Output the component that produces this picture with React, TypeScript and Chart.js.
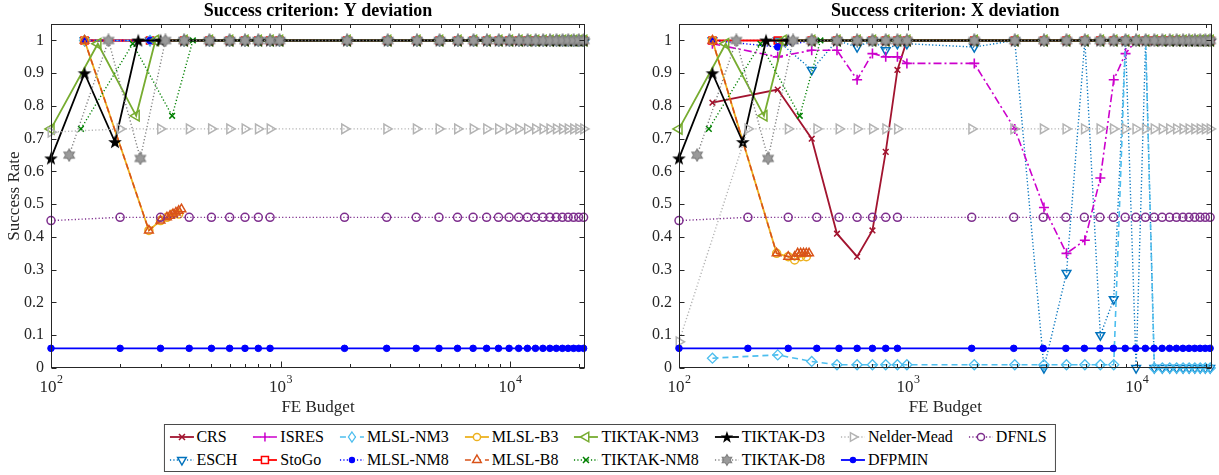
import React, { useEffect, useRef } from 'react';
import { Chart, registerables } from 'chart.js';

Chart.register(...registerables);

const FONT = '"Liberation Serif", "Times New Roman", Times, serif';
const INK = '#262626';

// ---------- axes ----------
const Y_TICKS = [0, 0.1, 0.2, 0.3, 0.4, 0.5, 0.6, 0.7, 0.8, 0.9, 1];
const Y_MIN = 0;
const Y_MAX = 1.05;
const X_MIN = 100;
const X_MAX = 21200;
const X_MAJOR = [100, 1000, 10000];
const X_MAJOR_EXP = ['2', '3', '4'];
const X_MINOR = [200, 300, 400, 500, 600, 700, 800, 900, 2000, 3000, 4000, 5000, 6000, 7000, 8000, 9000, 20000];

const TITLE_Y = 'Success criterion: Y deviation';
const TITLE_X = 'Success criterion: X deviation';
const X_LABEL = 'FE Budget';
const Y_LABEL = 'Success Rate';

// ---------- budgets (x values) ----------
const GRID_STD = [100, 200, 300, 400, 500, 600, 700, 800, 900,
  1900, 2900, 3900, 4900, 5900, 6900, 7900, 8900, 9900,
  10900, 11900, 12900, 13900, 14900, 15900, 16900, 17900, 18900, 19900, 20900];
const GRID_ALG = [140, 270, 380, 490, 600, 700, 800, 900, 990,
  1950, 2930, 3930, 4930, 5930, 6930, 7930, 8930, 9930,
  10930, 11930, 12930, 13930, 14930, 15930, 16930, 17930, 18930, 19930, 20930];
const GRID_B3 = [140, 267, 300, 320, 340, 360];
const GRID_B8 = [140, 267, 300, 320, 330, 340, 350, 360, 370];
const GRID_TNM3 = [100, 160, 235, 285, 380, 490, 600, 700, 800, 900, 990,
  1950, 2930, 3930, 4930, 5930, 6930, 7930, 8930, 9930,
  10930, 11930, 12930, 13930, 14930, 15930, 16930, 17930, 18930, 19930, 20930];
const GRID_TD3 = [100, 140, 190, 240, 300, 380, 490, 600, 700, 800, 900, 990,
  1950, 2930, 3930, 4930, 5930, 6930, 7930, 8930, 9930,
  10930, 11930, 12930, 13930, 14930, 15930, 16930, 17930, 18930, 19930, 20930];
const GRID_TNM8 = [135, 227, 337, 415, 490, 600, 700, 800, 900, 990,
  1950, 2930, 3930, 4930, 5930, 6930, 7930, 8930, 9930,
  10930, 11930, 12930, 13930, 14930, 15930, 16930, 17930, 18930, 19930, 20930];
const GRID_TD8 = [120, 178, 245, 315, 380, 490, 600, 700, 800, 900, 990,
  1950, 2930, 3930, 4930, 5930, 6930, 7930, 8930, 9930,
  10930, 11930, 12930, 13930, 14930, 15930, 16930, 17930, 18930, 19930, 20930];

// ---------- success rates, Y deviation (left panel) ----------
const CRS_Y = [1, 1, 1, 1, 1, 1, 1, 1, 1, 1, 1, 1, 1, 1, 1, 1, 1, 1, 1, 1, 1, 1, 1, 1, 1, 1, 1, 1, 1];
const ESCH_Y = [1, 1, 1, 1, 1, 1, 1, 1, 1, 1, 1, 1, 1, 1, 1, 1, 1, 1, 1, 1, 1, 1, 1, 1, 1, 1, 1, 1, 1];
const ISRES_Y = [1, 1, 1, 1, 1, 1, 1, 1, 1, 1, 1, 1, 1, 1, 1, 1, 1, 1, 1, 1, 1, 1, 1, 1, 1, 1, 1, 1, 1];
const STOGO_Y = [1, 1, 1, 1, 1, 1, 1, 1, 1, 1, 1, 1, 1, 1, 1, 1, 1, 1, 1, 1, 1, 1, 1, 1, 1, 1, 1, 1, 1];
const MLSL_NM3_Y = [1, 1, 1, 1, 1, 1, 1, 1, 1, 1, 1, 1, 1, 1, 1, 1, 1, 1, 1, 1, 1, 1, 1, 1, 1, 1, 1, 1, 1];
const MLSL_NM8_Y = [1, 1, 1, 1, 1, 1, 1, 1, 1, 1, 1, 1, 1, 1, 1, 1, 1, 1, 1, 1, 1, 1, 1, 1, 1, 1, 1, 1, 1];
const MLSL_B3_Y = [1, 0.42, 0.45, 0.46, 0.47, 0.47];
const MLSL_B8_Y = [1, 0.42, 0.45, 0.46, 0.465, 0.47, 0.475, 0.48, 0.485];
const TIKTAK_NM3_Y = [0.73, 0.99, 0.77, 1, 1, 1, 1, 1, 1, 1, 1,
  1, 1, 1, 1, 1, 1, 1, 1, 1, 1, 1, 1, 1, 1, 1, 1, 1, 1, 1, 1];
const TIKTAK_NM8_Y = [0.73, 0.99, 0.77, 1, 1, 1, 1, 1, 1, 1,
  1, 1, 1, 1, 1, 1, 1, 1, 1, 1, 1, 1, 1, 1, 1, 1, 1, 1, 1, 1];
const TIKTAK_D3_Y = [0.64, 0.9, 0.69, 1, 1, 1, 1, 1, 1, 1, 1, 1,
  1, 1, 1, 1, 1, 1, 1, 1, 1, 1, 1, 1, 1, 1, 1, 1, 1, 1, 1, 1];
const TIKTAK_D8_Y = [0.65, 1, 0.64, 1, 1, 1, 1, 1, 1, 1, 1,
  1, 1, 1, 1, 1, 1, 1, 1, 1, 1, 1, 1, 1, 1, 1, 1, 1, 1, 1, 1];
const NELDER_MEAD_Y = [0.72, 0.73, 0.73, 0.73, 0.73, 0.73, 0.73, 0.73, 0.73, 0.73,
  0.73, 0.73, 0.73, 0.73, 0.73, 0.73, 0.73, 0.73, 0.73, 0.73,
  0.73, 0.73, 0.73, 0.73, 0.73, 0.73, 0.73, 0.73, 0.73];
const DFPMIN_Y = [0.06, 0.06, 0.06, 0.06, 0.06, 0.06, 0.06, 0.06, 0.06, 0.06,
  0.06, 0.06, 0.06, 0.06, 0.06, 0.06, 0.06, 0.06, 0.06, 0.06,
  0.06, 0.06, 0.06, 0.06, 0.06, 0.06, 0.06, 0.06, 0.06];
const DFNLS_Y = [0.45, 0.46, 0.46, 0.46, 0.46, 0.46, 0.46, 0.46, 0.46, 0.46,
  0.46, 0.46, 0.46, 0.46, 0.46, 0.46, 0.46, 0.46, 0.46, 0.46,
  0.46, 0.46, 0.46, 0.46, 0.46, 0.46, 0.46, 0.46, 0.46];

// ---------- success rates, X deviation (right panel) ----------
const CRS_X = [0.81, 0.85, 0.7, 0.41, 0.34, 0.42, 0.66, 0.91, 1, 1,
  1, 1, 1, 1, 1, 1, 1, 1, 1, 1, 1, 1, 1, 1, 1, 1, 1, 1, 1];
const ESCH_X = [1, 1, 0.91, 1, 0.98, 1, 0.97, 0.99, 0.99, 0.98,
  1, 0, 0.29, 1, 0.1, 0.21, 1, 0, 1, 0,
  0, 0, 0, 0, 0, 0, 0, 0, 0];
const ISRES_X = [0.99, 0.95, 0.97, 0.97, 0.88, 0.96, 0.95, 0.95, 0.93, 0.93,
  0.73, 0.49, 0.35, 0.39, 0.58, 0.88, 0.96, 1, 1, 1,
  1, 1, 1, 1, 1, 1, 1, 1, 1];
const STOGO_X = [1, 1, 1, 1, 1, 1, 1, 1, 1, 1, 1, 1, 1, 1, 1, 1, 1, 1, 1, 1, 1, 1, 1, 1, 1, 1, 1, 1, 1];
const MLSL_NM3_X = [0.03, 0.04, 0.02, 0.01, 0.01, 0.01, 0.01, 0.01, 0.01, 0.01,
  0.01, 0.01, 0.01, 0.01, 0.01, 0.01, 1, 1, 1, 0,
  0, 0, 0, 0, 0, 0, 0, 0, 0];
const MLSL_NM8_X = [1, 0.98, 1, 1, 1, 1, 1, 1, 1, 1, 1, 1, 1, 1, 1, 1, 1, 1, 1, 1, 1, 1, 1, 1, 1, 1, 1, 1, 1];
const MLSL_B3_X = [1, 0.35, 0.34, 0.33, 0.34, 0.34];
const MLSL_B8_X = [1, 0.35, 0.34, 0.34, 0.35, 0.35, 0.35, 0.35, 0.35];
const TIKTAK_NM3_X = [0.73, 0.99, 0.77, 1, 1, 1, 1, 1, 1, 1, 1,
  1, 1, 1, 1, 1, 1, 1, 1, 1, 1, 1, 1, 1, 1, 1, 1, 1, 1, 1, 1];
const TIKTAK_NM8_X = [0.73, 0.99, 0.77, 1, 1, 1, 1, 1, 1, 1,
  1, 1, 1, 1, 1, 1, 1, 1, 1, 1, 1, 1, 1, 1, 1, 1, 1, 1, 1, 1];
const TIKTAK_D3_X = [0.64, 0.9, 0.69, 1, 1, 1, 1, 1, 1, 1, 1, 1,
  1, 1, 1, 1, 1, 1, 1, 1, 1, 1, 1, 1, 1, 1, 1, 1, 1, 1, 1, 1];
const TIKTAK_D8_X = [0.65, 1, 0.64, 1, 1, 1, 1, 1, 1, 1, 1,
  1, 1, 1, 1, 1, 1, 1, 1, 1, 1, 1, 1, 1, 1, 1, 1, 1, 1, 1, 1];
const NELDER_MEAD_X = [0.08, 0.73, 0.73, 0.73, 0.73, 0.73, 0.73, 0.73, 0.73, 0.73,
  0.73, 0.73, 0.73, 0.73, 0.73, 0.73, 0.73, 0.73, 0.73, 0.73,
  0.73, 0.73, 0.73, 0.73, 0.73, 0.73, 0.73, 0.73, 0.73];
const DFPMIN_X = [0.06, 0.06, 0.06, 0.06, 0.06, 0.06, 0.06, 0.06, 0.06, 0.06,
  0.06, 0.06, 0.06, 0.06, 0.06, 0.06, 0.06, 0.06, 0.06, 0.06,
  0.06, 0.06, 0.06, 0.06, 0.06, 0.06, 0.06, 0.06, 0.06];
const DFNLS_X = [0.45, 0.46, 0.46, 0.46, 0.46, 0.46, 0.46, 0.46, 0.46, 0.46,
  0.46, 0.46, 0.46, 0.46, 0.46, 0.46, 0.46, 0.46, 0.46, 0.46,
  0.46, 0.46, 0.46, 0.46, 0.46, 0.46, 0.46, 0.46, 0.46];

// ---------- series styles (drawing order) ----------
type Marker = 'x' | 'plus' | 'diamond' | 'circle' | 'dot' | 'triUp' | 'triDown' | 'triLeft' | 'triRight' | 'square' | 'star' | 'hex';
type Dash = 'solid' | 'dot' | 'dash' | 'dashdot';
interface Spec { name: string; color: string; dash: Dash; marker: Marker; grid: number[]; yDev: number[]; xDev: number[]; }

const SERIES: Spec[] = [
  { name: 'CRS', color: '#A2142F', dash: 'solid', marker: 'x', grid: GRID_ALG, yDev: CRS_Y, xDev: CRS_X },
  { name: 'ESCH', color: '#0072BD', dash: 'dot', marker: 'triDown', grid: GRID_ALG, yDev: ESCH_Y, xDev: ESCH_X },
  { name: 'ISRES', color: '#CC00CC', dash: 'dashdot', marker: 'plus', grid: GRID_ALG, yDev: ISRES_Y, xDev: ISRES_X },
  { name: 'StoGo', color: '#FF0000', dash: 'solid', marker: 'square', grid: GRID_ALG, yDev: STOGO_Y, xDev: STOGO_X },
  { name: 'MLSL-NM3', color: '#4DBEEE', dash: 'dash', marker: 'diamond', grid: GRID_ALG, yDev: MLSL_NM3_Y, xDev: MLSL_NM3_X },
  { name: 'MLSL-NM8', color: '#0000FF', dash: 'dot', marker: 'dot', grid: GRID_ALG, yDev: MLSL_NM8_Y, xDev: MLSL_NM8_X },
  { name: 'MLSL-B3', color: '#EDB120', dash: 'solid', marker: 'circle', grid: GRID_B3, yDev: MLSL_B3_Y, xDev: MLSL_B3_X },
  { name: 'MLSL-B8', color: '#D95319', dash: 'dash', marker: 'triUp', grid: GRID_B8, yDev: MLSL_B8_Y, xDev: MLSL_B8_X },
  { name: 'TIKTAK-NM3', color: '#77AC30', dash: 'solid', marker: 'triLeft', grid: GRID_TNM3, yDev: TIKTAK_NM3_Y, xDev: TIKTAK_NM3_X },
  { name: 'TIKTAK-NM8', color: '#008000', dash: 'dot', marker: 'x', grid: GRID_TNM8, yDev: TIKTAK_NM8_Y, xDev: TIKTAK_NM8_X },
  { name: 'TIKTAK-D3', color: '#000000', dash: 'solid', marker: 'star', grid: GRID_TD3, yDev: TIKTAK_D3_Y, xDev: TIKTAK_D3_X },
  { name: 'TIKTAK-D8', color: '#808080', dash: 'dot', marker: 'hex', grid: GRID_TD8, yDev: TIKTAK_D8_Y, xDev: TIKTAK_D8_X },
  { name: 'Nelder-Mead', color: '#B3B3B3', dash: 'dot', marker: 'triRight', grid: GRID_STD, yDev: NELDER_MEAD_Y, xDev: NELDER_MEAD_X },
  { name: 'DFPMIN', color: '#0000FF', dash: 'solid', marker: 'dot', grid: GRID_STD, yDev: DFPMIN_Y, xDev: DFPMIN_X },
  { name: 'DFNLS', color: '#7E2F8E', dash: 'dot', marker: 'circle', grid: GRID_STD, yDev: DFNLS_Y, xDev: DFNLS_X },
];

const LEGEND_ROW1 = ['CRS', 'ISRES', 'MLSL-NM3', 'MLSL-B3', 'TIKTAK-NM3', 'TIKTAK-D3', 'Nelder-Mead', 'DFNLS'];
const LEGEND_ROW2 = ['ESCH', 'StoGo', 'MLSL-NM8', 'MLSL-B8', 'TIKTAK-NM8', 'TIKTAK-D8', 'DFPMIN'];

const DASHES: Record<Dash, number[]> = { solid: [], dot: [1.2, 2.2], dash: [6, 4], dashdot: [8, 3, 2, 3] };
const WIDTHS: Record<Dash, number> = { solid: 1.8, dot: 1.4, dash: 1.6, dashdot: 1.6 };

// ---------- custom marker images ----------
function starCanvas(color: string): HTMLCanvasElement {
  const c = document.createElement('canvas');
  c.width = 16; c.height = 16;
  const g = c.getContext('2d')!;
  g.beginPath();
  for (let i = 0; i < 10; i++) {
    const r = i % 2 === 0 ? 7.2 : 2.9;
    const a = -Math.PI / 2 + (i * Math.PI) / 5;
    const px = 8 + r * Math.cos(a);
    const py = 8.5 + r * Math.sin(a);
    if (i === 0) g.moveTo(px, py); else g.lineTo(px, py);
  }
  g.closePath();
  g.fillStyle = color;
  g.fill();
  return c;
}
function hexCanvas(color: string): HTMLCanvasElement {
  const c = document.createElement('canvas');
  c.width = 14; c.height = 14;
  const g = c.getContext('2d')!;
  g.beginPath();
  for (let i = 0; i < 12; i++) {
    const r = i % 2 === 0 ? 6 : 3.5;
    const a = -Math.PI / 2 + (i * Math.PI) / 6;
    const px = 7 + r * Math.cos(a);
    const py = 7 + r * Math.sin(a);
    if (i === 0) g.moveTo(px, py); else g.lineTo(px, py);
  }
  g.closePath();
  g.fillStyle = '#9a9a9a';
  g.fill();
  g.strokeStyle = color;
  g.lineWidth = 1.2;
  g.stroke();
  return c;
}

function pointOpts(s: Spec, images: { star: HTMLCanvasElement; hex: HTMLCanvasElement }) {
  const none = 'rgba(0,0,0,0)';
  switch (s.marker) {
    case 'x': return { pointStyle: 'crossRot', pointRadius: 4, pointRotation: 0, pointBackgroundColor: none, pointBorderWidth: 1.5 };
    case 'plus': return { pointStyle: 'cross', pointRadius: 5, pointRotation: 0, pointBackgroundColor: none, pointBorderWidth: 1.6 };
    case 'diamond': return { pointStyle: 'rectRot', pointRadius: 5, pointRotation: 0, pointBackgroundColor: none, pointBorderWidth: 1.3 };
    case 'circle': return { pointStyle: 'circle', pointRadius: 4, pointRotation: 0, pointBackgroundColor: none, pointBorderWidth: 1.5 };
    case 'dot': return { pointStyle: 'circle', pointRadius: 3.3, pointRotation: 0, pointBackgroundColor: s.color, pointBorderWidth: 1 };
    case 'triUp': return { pointStyle: 'triangle', pointRadius: 5, pointRotation: 0, pointBackgroundColor: none, pointBorderWidth: 1.5 };
    case 'triDown': return { pointStyle: 'triangle', pointRadius: 5, pointRotation: 180, pointBackgroundColor: none, pointBorderWidth: 1.5 };
    case 'triLeft': return { pointStyle: 'triangle', pointRadius: 6, pointRotation: 270, pointBackgroundColor: none, pointBorderWidth: 1.5 };
    case 'triRight': return { pointStyle: 'triangle', pointRadius: 5.5, pointRotation: 90, pointBackgroundColor: none, pointBorderWidth: 1.5 };
    case 'square': return { pointStyle: 'rect', pointRadius: 5, pointRotation: 0, pointBackgroundColor: none, pointBorderWidth: 1.5 };
    case 'star': return { pointStyle: images.star, pointRadius: 6, pointRotation: 0, pointBackgroundColor: s.color, pointBorderWidth: 1 };
    case 'hex': return { pointStyle: images.hex, pointRadius: 5, pointRotation: 0, pointBackgroundColor: s.color, pointBorderWidth: 1 };
  }
}

function buildDatasets(panel: 'Y' | 'X', images: { star: HTMLCanvasElement; hex: HTMLCanvasElement }) {
  const n = SERIES.length;
  return SERIES.map((s, i) => {
    const vals = panel === 'Y' ? s.yDev : s.xDev;
    return {
      label: s.name,
      data: s.grid.map((b, k) => ({ x: b, y: vals[k] })),
      borderColor: s.color,
      backgroundColor: s.color,
      borderWidth: WIDTHS[s.dash],
      borderDash: DASHES[s.dash],
      pointBorderColor: s.color,
      tension: 0,
      clip: false,
      order: n - i,
      ...pointOpts(s, images),
    };
  });
}

// ---------- MATLAB-style box, ticks and x labels ----------
const framePlugin = {
  id: 'matlabFrame',
  afterDraw(chart: any) {
    const { ctx, chartArea: a, scales } = chart;
    const xs = scales.x;
    const ys = scales.y;
    ctx.save();
    ctx.strokeStyle = INK;
    ctx.lineWidth = 1;
    ctx.setLineDash([]);
    const L = Math.round(a.left) + 0.5, R = Math.round(a.right) - 0.5;
    const T = Math.round(a.top) + 0.5, B = Math.round(a.bottom) - 0.5;
    ctx.strokeRect(L, T, R - L, B - T);
    ctx.beginPath();
    for (const v of Y_TICKS) {
      const py = Math.round(ys.getPixelForValue(v)) + 0.5;
      ctx.moveTo(L, py); ctx.lineTo(L + 5, py);
      ctx.moveTo(R, py); ctx.lineTo(R - 5, py);
    }
    for (const v of X_MAJOR) {
      const px = Math.round(xs.getPixelForValue(v)) + 0.5;
      ctx.moveTo(px, B); ctx.lineTo(px, B - 6);
      ctx.moveTo(px, T); ctx.lineTo(px, T + 6);
    }
    for (const v of X_MINOR) {
      const px = Math.round(xs.getPixelForValue(v)) + 0.5;
      ctx.moveTo(px, B); ctx.lineTo(px, B - 3.5);
      ctx.moveTo(px, T); ctx.lineTo(px, T + 3.5);
    }
    ctx.stroke();
    ctx.fillStyle = INK;
    ctx.textBaseline = 'alphabetic';
    ctx.textAlign = 'left';
    X_MAJOR.forEach((v, i) => {
      const px = xs.getPixelForValue(v);
      ctx.font = `17px ${FONT}`;
      const w10 = ctx.measureText('10').width;
      ctx.font = `12px ${FONT}`;
      const we = ctx.measureText(X_MAJOR_EXP[i]).width;
      const start = px - (w10 + we) / 2;
      const base = a.bottom + 24;
      ctx.font = `17px ${FONT}`;
      ctx.fillText('10', start, base);
      ctx.font = `12px ${FONT}`;
      ctx.fillText(X_MAJOR_EXP[i], start + w10 + 0.5, base - 9);
    });
    ctx.restore();
  },
};

function makeConfig(panel: 'Y' | 'X', images: any) {
  const left = panel === 'Y';
  return {
    type: 'line',
    data: { datasets: buildDatasets(panel, images) },
    plugins: [framePlugin],
    options: {
      responsive: false,
      animation: false,
      events: [],
      layout: { padding: { left: 0, right: left ? 25 : 6, top: 0, bottom: 0 } },
      plugins: {
        legend: { display: false },
        tooltip: { enabled: false },
        title: {
          display: true,
          fullSize: false,
          text: left ? TITLE_Y : TITLE_X,
          color: '#000',
          font: { family: FONT, size: 18, weight: 'bold' },
          padding: { top: 1, bottom: 1.5 },
        },
      },
      scales: {
        x: {
          type: 'logarithmic',
          min: X_MIN,
          max: X_MAX,
          grid: { display: false, drawTicks: false },
          border: { display: false },
          ticks: { display: false },
          title: { display: true, text: X_LABEL, color: INK, font: { family: FONT, size: 17 }, padding: { top: 0, bottom: 2 } },
          afterFit: (s: any) => { s.height = 52; },
        },
        y: {
          type: 'linear',
          min: Y_MIN,
          max: Y_MAX,
          grid: { display: false, drawTicks: false },
          border: { display: false },
          afterBuildTicks: (s: any) => { s.ticks = Y_TICKS.map((v) => ({ value: v })); },
          ticks: { color: INK, font: { family: FONT, size: 16 }, padding: 7, callback: (v: any) => String(v) },
          title: { display: left, text: Y_LABEL, color: INK, font: { family: FONT, size: 17 }, padding: { top: 4, bottom: 0 } },
          afterFit: (s: any) => { s.width = left ? 51 : 69; },
        },
      },
    },
  };
}

// ---------- legend ----------
function MarkerSvg({ s }: { s: Spec }) {
  const c = s.color;
  const cx = 13, cy = 7;
  switch (s.marker) {
    case 'x': return <g stroke={c} strokeWidth={1.5}><line x1={cx - 3} y1={cy - 3} x2={cx + 3} y2={cy + 3} /><line x1={cx - 3} y1={cy + 3} x2={cx + 3} y2={cy - 3} /></g>;
    case 'plus': return <g stroke={c} strokeWidth={1.5}><line x1={cx - 4.5} y1={cy} x2={cx + 4.5} y2={cy} /><line x1={cx} y1={cy - 4.5} x2={cx} y2={cy + 4.5} /></g>;
    case 'diamond': return <polygon points={`${cx},${cy - 5} ${cx + 3.5},${cy} ${cx},${cy + 5} ${cx - 3.5},${cy}`} fill="white" stroke={c} strokeWidth={1.3} />;
    case 'circle': return <circle cx={cx} cy={cy} r={3.6} fill="white" stroke={c} strokeWidth={1.5} />;
    case 'dot': return <circle cx={cx} cy={cy} r={3.2} fill={c} />;
    case 'triUp': return <polygon points={`${cx},${cy - 5} ${cx + 4.3},${cy + 2.5} ${cx - 4.3},${cy + 2.5}`} fill="white" stroke={c} strokeWidth={1.5} />;
    case 'triDown': return <polygon points={`${cx},${cy + 5} ${cx + 4.3},${cy - 2.5} ${cx - 4.3},${cy - 2.5}`} fill="white" stroke={c} strokeWidth={1.5} />;
    case 'triLeft': return <polygon points={`${cx - 5.5},${cy} ${cx + 2.8},${cy - 4.8} ${cx + 2.8},${cy + 4.8}`} fill="white" stroke={c} strokeWidth={1.5} />;
    case 'triRight': return <polygon points={`${cx + 5},${cy} ${cx - 2.5},${cy - 4.3} ${cx - 2.5},${cy + 4.3}`} fill="white" stroke={c} strokeWidth={1.5} />;
    case 'square': return <rect x={cx - 3.5} y={cy - 3.5} width={7} height={7} fill="white" stroke={c} strokeWidth={1.5} />;
    case 'star': {
      const pts: string[] = [];
      for (let i = 0; i < 10; i++) {
        const r = i % 2 === 0 ? 6.5 : 2.6;
        const a = -Math.PI / 2 + (i * Math.PI) / 5;
        pts.push(`${cx + r * Math.cos(a)},${cy + 0.5 + r * Math.sin(a)}`);
      }
      return <polygon points={pts.join(' ')} fill={c} />;
    }
    case 'hex': {
      const pts: string[] = [];
      for (let i = 0; i < 12; i++) {
        const r = i % 2 === 0 ? 5.5 : 3.2;
        const a = -Math.PI / 2 + (i * Math.PI) / 6;
        pts.push(`${cx + r * Math.cos(a)},${cy + r * Math.sin(a)}`);
      }
      return <polygon points={pts.join(' ')} fill="#9a9a9a" stroke={c} strokeWidth={1.1} />;
    }
  }
  return null;
}

function LegendItem({ name }: { name: string }) {
  const s = SERIES.find((q) => q.name === name)!;
  const dash = DASHES[s.dash].join(' ');
  return (
    <div style={{ display: 'flex', alignItems: 'center', height: 23, whiteSpace: 'nowrap' }}>
      <svg width={26} height={14} style={{ display: 'block', marginRight: 2 }}>
        <line x1={1} y1={7} x2={25} y2={7} stroke={s.color} strokeWidth={WIDTHS[s.dash]} strokeDasharray={dash || undefined} />
        <MarkerSvg s={s} />
      </svg>
      <span>{name}</span>
    </div>
  );
}

function Legend() {
  const cells: React.ReactNode[] = [];
  for (let r = 0; r < 2; r++) {
    const row = r === 0 ? LEGEND_ROW1 : LEGEND_ROW2;
    for (let c = 0; c < 8; c++) {
      const n = row[c];
      cells.push(n ? <LegendItem key={`${r}-${c}`} name={n} /> : <div key={`${r}-${c}`} />);
    }
  }
  return (
    <div style={{
      position: 'absolute', top: 424, left: '50%', transform: 'translateX(-50%)',
      border: '1px solid #4a4a4a', background: '#fff', padding: '0px 8px 0px 4px',
      display: 'grid', gridTemplateColumns: 'repeat(8, auto)', columnGap: 15,
      fontFamily: FONT, fontSize: 16, color: '#000', lineHeight: '23px',
    }}>
      {cells}
    </div>
  );
}

export default function App() {
  const leftRef = useRef<HTMLCanvasElement>(null);
  const rightRef = useRef<HTMLCanvasElement>(null);

  useEffect(() => {
    const images = { star: starCanvas('#000000'), hex: hexCanvas('#808080') };
    const c1 = new Chart(leftRef.current!, makeConfig('Y', images) as any);
    const c2 = new Chart(rightRef.current!, makeConfig('X', images) as any);
    return () => { c1.destroy(); c2.destroy(); };
  }, []);

  return (
    <div style={{ position: 'absolute', left: 0, top: 0, width: 1219, height: 475, background: '#fff', overflow: 'hidden' }}>
      <canvas ref={leftRef} width={610} height={420} style={{ position: 'absolute', left: 0, top: 0, width: 610, height: 420 }} />
      <canvas ref={rightRef} width={609} height={420} style={{ position: 'absolute', left: 610, top: 0, width: 609, height: 420 }} />
      <Legend />
    </div>
  );
}
